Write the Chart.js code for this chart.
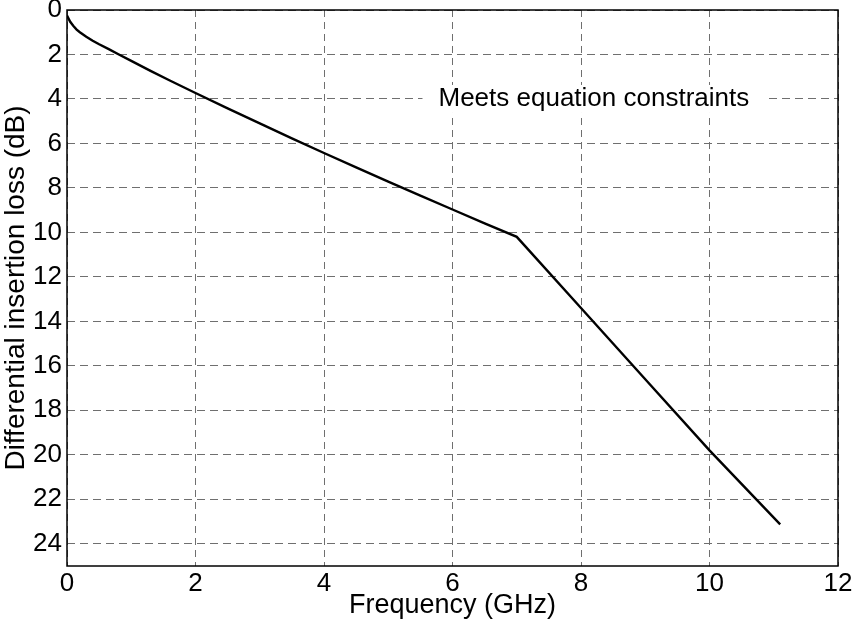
<!DOCTYPE html>
<html>
<head>
<meta charset="utf-8">
<script src="https://cdn.jsdelivr.net/npm/chart.js@4.4.0/dist/chart.umd.min.js"></script>
<style>
  html, body { margin: 0; padding: 0; background: #ffffff; }
  #wrap { width: 852px; height: 623px; position: relative; }
</style>
</head>
<body>
<div id="wrap"><canvas id="c" width="852" height="623"></canvas></div>
<script>
// Data
const frequencyGHz = [0, 0.05, 0.1, 0.15, 0.2, 0.3, 0.4, 0.5, 0.65, 0.8, 1, 1.3, 1.6, 2, 2.5, 3, 3.5, 4, 4.5, 5, 5.5, 6, 6.5, 7, 8, 9, 10, 11.1];
const insertionLossDb = [0.25, 0.53, 0.72, 0.88, 1.0, 1.2, 1.38, 1.54, 1.76, 1.99, 2.29, 2.74, 3.17, 3.73, 4.42, 5.1, 5.77, 6.43, 7.08, 7.72, 8.35, 8.97, 9.59, 10.2, 13.4, 16.6, 19.8, 23.13];
const xTicks = [0, 2, 4, 6, 8, 10, 12];
const yTicks = [0, 2, 4, 6, 8, 10, 12, 14, 16, 18, 20, 22, 24];
const xTitle = 'Frequency (GHz)';
const yTitle = 'Differential insertion loss (dB)';
const annotationText = 'Meets equation constraints';

const FONT = 'Liberation Sans, Arial, Helvetica, sans-serif';

const points = frequencyGHz.map((f, i) => ({ x: f, y: insertionLossDb[i] }));

const boxPlugin = {
  id: 'boxPlugin',
  afterDatasetsDraw(chart) {
    const { ctx, chartArea: a, scales } = chart;
    ctx.save();
    ctx.font = '26px ' + FONT;
    const tx = scales.x.getPixelForValue(8.2);
    const ty = scales.y.getPixelForValue(4);
    const w = ctx.measureText(annotationText).width;
    ctx.fillStyle = '#ffffff';
    ctx.fillRect(tx - w / 2 - 16, ty - 14, w + 32, 28);
    ctx.fillStyle = '#000000';
    ctx.textAlign = 'center';
    ctx.textBaseline = 'middle';
    ctx.fillText(annotationText, tx, ty);
    ctx.strokeStyle = '#000000';
    ctx.lineWidth = 1.5;
    ctx.strokeRect(a.left, a.top, a.right - a.left, a.bottom - a.top);
    ctx.restore();
  }
};

new Chart(document.getElementById('c'), {
  type: 'line',
  data: {
    datasets: [{
      data: points,
      borderColor: '#000000',
      borderWidth: 2.4,
      pointRadius: 0,
      tension: 0,
      fill: false
    }]
  },
  options: {
    responsive: false,
    animation: false,
    events: [],
    layout: { padding: { top: 10, right: 14, left: 0, bottom: 0 } },
    plugins: { legend: { display: false }, tooltip: { enabled: false } },
    scales: {
      x: {
        type: 'linear',
        min: 0, max: 12,
        afterFit(s) { s.height = 57; s.paddingLeft = 0; s.paddingRight = 0; },
        afterBuildTicks(s) { s.ticks = xTicks.map(v => ({ value: v })); },
        grid: { color: '#6f6f6f', lineWidth: 1, drawTicks: false },
        border: { display: false, dash: [7, 5] },
        ticks: { color: '#000', font: { family: FONT, size: 26 }, padding: 2, maxRotation: 0 },
        title: { display: true, text: xTitle, color: '#000', font: { family: FONT, size: 27 }, padding: { top: 0, bottom: 1 } }
      },
      y: {
        type: 'linear',
        reverse: true,
        min: 0, max: 25,
        afterFit(s) { s.width = 67; s.paddingTop = 0; s.paddingBottom = 0; },
        afterBuildTicks(s) { s.ticks = yTicks.map(v => ({ value: v })); },
        grid: { color: '#6f6f6f', lineWidth: 1, drawTicks: false },
        border: { display: false, dash: [8, 5] },
        ticks: { color: '#000', font: { family: FONT, size: 26 }, padding: 5 },
        title: { display: true, text: yTitle, color: '#000', font: { family: FONT, size: 28 }, padding: { top: -1, bottom: 0 } }
      }
    }
  },
  plugins: [boxPlugin]
});
</script>
</body>
</html>
